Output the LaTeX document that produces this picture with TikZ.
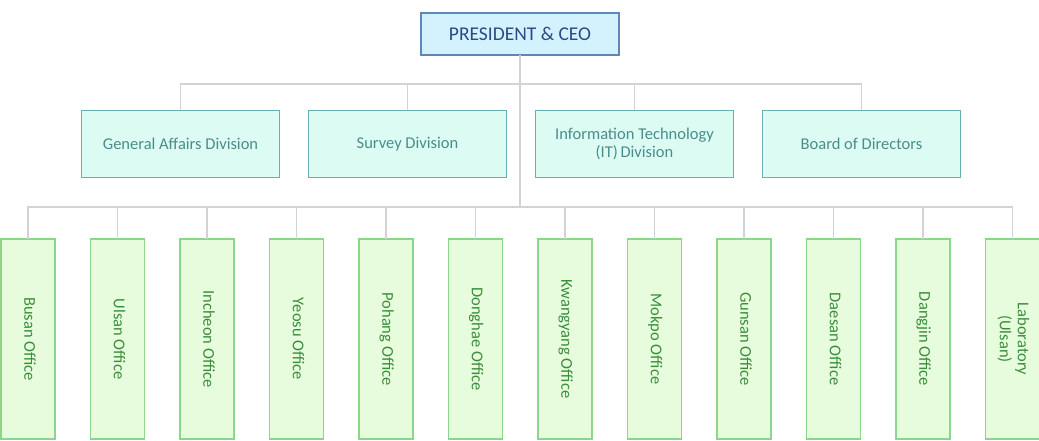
\documentclass[tikz,border=0pt]{standalone}
\usepackage{fontspec}
\setmainfont{Carlito}
\usetikzlibrary{positioning}

\definecolor{ceofill}{HTML}{D4F2FE}
\definecolor{ceoline}{HTML}{5F87B5}
\definecolor{ceotext}{HTML}{2B4A85}
\definecolor{divfill}{HTML}{DCFCF3}
\definecolor{divline}{HTML}{6AB0B0}
\definecolor{divtext}{HTML}{4A8C8C}
\definecolor{offfill}{HTML}{E6FCDD}
\definecolor{offline}{HTML}{8AD68A}
\definecolor{offtext}{HTML}{3A8E3A}
\definecolor{busgray}{HTML}{D3D3D3}

\newcommand{\vtext}[1]{\rotatebox{-90}{\begin{tabular}{@{}c@{}}#1\end{tabular}}}

\begin{document}
\begin{tikzpicture}[
    x=1pt,y=1pt,
    ceo/.style={rectangle,fill=ceofill,draw=ceoline,line width=1.8pt,outer sep=0pt,
        minimum width=198pt,minimum height=42pt,text=ceotext,font=\fontsize{19.5}{22}\selectfont},
    division/.style={rectangle,fill=divfill,draw=divline,line width=1.8pt,outer sep=0pt,
        minimum width=198pt,minimum height=67pt,text=divtext,align=center,
        font=\fontsize{16.5}{18}\selectfont},
    office/.style={rectangle,fill=offfill,draw=offline,line width=1.8pt,outer sep=0pt,
        minimum width=54pt,minimum height=200pt,inner sep=0pt,text=offtext,
        font=\fontsize{16.5}{18}\selectfont},
    link/.style={draw=busgray,line width=1.4pt}
]
\useasboundingbox (0,0) rectangle (1039,440);

% Top
\node[ceo] (ceo) at (520,406) {PRESIDENT \& CEO};

% Divisions
\node[division] (general) at (180.5,296) {General Affairs Division};
\node[division, right=29pt of general] (survey) {Survey Division};
\node[division, right=29pt of survey] (it) {Information Technology\\(IT)\,Division};
\node[division, right=29pt of it] (board) {Board of Directors};

% Offices
\node[office] (busan) at (28,101) {\vtext{Busan Office}};
\node[office, right=35.5pt of busan] (ulsan) {\vtext{Ulsan Office}};
\node[office, right=35.5pt of ulsan] (incheon) {\vtext{Incheon Office}};
\node[office, right=35.5pt of incheon] (yeosu) {\vtext{Yeosu Office}};
\node[office, right=35.5pt of yeosu] (pohang) {\vtext{Pohang Office}};
\node[office, right=35.5pt of pohang] (donghae) {\vtext{Donghae Office}};
\node[office, right=35.5pt of donghae] (kwangyang) {\vtext{Kwangyang Office}};
\node[office, right=35.5pt of kwangyang] (mokpo) {\vtext{Mokpo Office}};
\node[office, right=35.5pt of mokpo] (gunsan) {\vtext{Gunsan Office}};
\node[office, right=35.5pt of gunsan] (daesan) {\vtext{Daesan Office}};
\node[office, right=35.5pt of daesan] (dangjin) {\vtext{Dangjin Office}};
\node[office, right=35.5pt of dangjin] (lab) {\vtext{Laboratory\\(Ulsan)}};

% Bus lines
\coordinate (divbus) at (520,356);
\coordinate (offbus) at (520,233);

\draw[link] (ceo.south) -- (offbus);
\draw[link] (general.north) |- (divbus);
\draw[link] (survey.north) |- (divbus);
\draw[link] (it.north) |- (divbus);
\draw[link] (board.north) |- (divbus);

\draw[link] (busan.north) |- (offbus);
\draw[link] (ulsan.north) |- (offbus);
\draw[link] (incheon.north) |- (offbus);
\draw[link] (yeosu.north) |- (offbus);
\draw[link] (pohang.north) |- (offbus);
\draw[link] (donghae.north) |- (offbus);
\draw[link] (kwangyang.north) |- (offbus);
\draw[link] (mokpo.north) |- (offbus);
\draw[link] (gunsan.north) |- (offbus);
\draw[link] (daesan.north) |- (offbus);
\draw[link] (dangjin.north) |- (offbus);
\draw[link] (lab.north) |- (offbus);

\end{tikzpicture}
\end{document}
